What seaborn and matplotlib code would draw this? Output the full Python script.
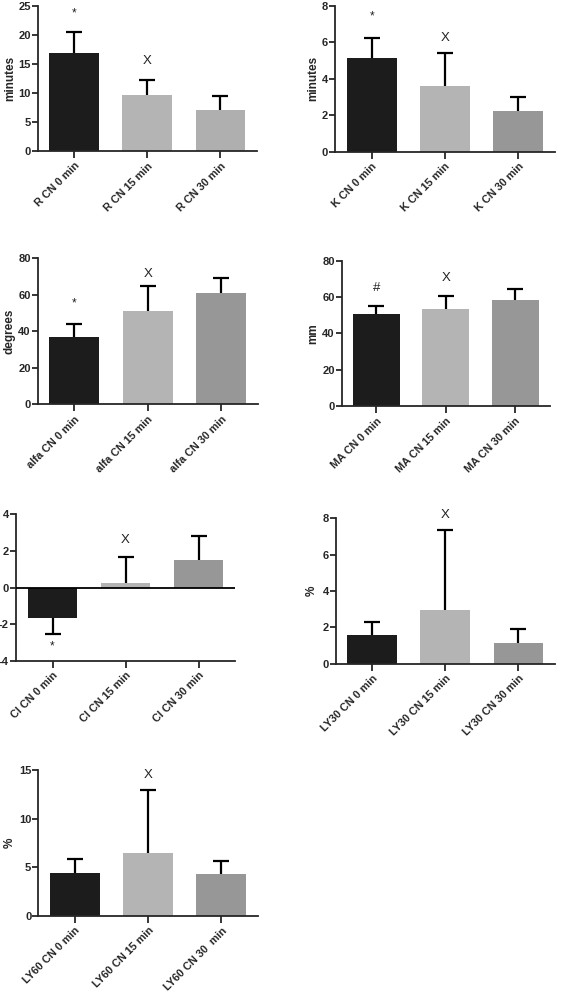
import matplotlib
matplotlib.use('Agg')
import matplotlib.pyplot as plt
import seaborn as sns
import pandas as pd

sns.set_style('ticks')
plt.rcParams['font.family'] = ['Liberation Sans', 'DejaVu Sans']
plt.rcParams['font.weight'] = 'bold'

# ---- data ----
times = ['0 min', '15 min', '30 min']

r_mean = [16.9, 9.6, 7.0]
r_sd = [3.5, 2.7, 2.4]
k_mean = [5.15, 3.6, 2.23]
k_sd = [1.1, 1.8, 0.78]
alfa_mean = [36.9, 51.3, 60.8]
alfa_sd = [6.9, 13.4, 8.6]
ma_mean = [50.7, 53.2, 58.2]
ma_sd = [4.4, 7.5, 6.0]
ci_mean = [-1.64, 0.24, 1.51]
ci_sd = [0.89, 1.40, 1.30]
ly30_mean = [1.56, 2.94, 1.16]
ly30_sd = [0.75, 4.42, 0.75]
ly60_mean = [4.36, 6.46, 4.29]
ly60_sd = [1.48, 6.44, 1.35]

c_dark = '#1c1c1c'
c_light = '#b4b4b4'
c_mid = '#979797'


def panel(rect, prefix, means, sds, ylabel, ymin, ymax, step, marks,
          colors=None, label_x=-0.125, names=None):
    '''
    draw one bar panel with one sided error bars
    '''
    if colors is None:
        colors = [c_dark, c_light, c_mid]
    if names is None:
        names = [prefix + ' CN ' + t for t in times]
    df = pd.DataFrame({'group': names, 'value': means})
    ax = fig.add_axes(rect)
    sns.barplot(data=df, x='group', y='value', hue='group',
                palette=colors, legend=False, errorbar=None,
                width=0.68, ax=ax, saturation=1, linewidth=0)
    # one sided error: away from zero
    tips = [m - sd if m < 0 else m + sd for m, sd in zip(means, sds)]
    xs = list(range(3))
    ax.vlines(xs, means, tips, color='black', lw=1.6, zorder=5)
    ax.plot(xs, tips, ls='none', marker='_', ms=11.5, mew=1.6,
            color='black', zorder=5)
    ax.set_xlim(-0.5, 2.5)
    ax.set_ylim(ymin, ymax)
    ticks = list(range(int(ymin), int(ymax) + 1, step))
    ax.set_yticks(ticks)
    ax.set_yticklabels([str(t) for t in ticks], fontsize=8,
                       fontweight='bold')
    ax.set_xticks(xs)
    ax.set_xticklabels(names, rotation=45, ha='right',
                       rotation_mode='anchor', fontsize=7.8,
                       fontweight='bold')
    ax.set_xlabel('')
    ax.set_ylabel(ylabel, fontsize=8.5, fontweight='bold', va='center')
    ax.yaxis.set_label_coords(label_x, 0.5)
    sns.despine(ax=ax)
    for s in ['left', 'bottom']:
        ax.spines[s].set_linewidth(1.3)
    ax.tick_params(axis='y', length=4, width=1.3, pad=1)
    ax.tick_params(axis='x', length=5, width=1.3, pad=2)
    if ymin < 0:
        ax.axhline(0, color='black', lw=1.3, zorder=4)
    for i, (sym, yv) in enumerate(marks):
        if sym:
            fs = 8.5 if sym == '*' else 9.5
            ax.text(i, yv, sym, ha='center', va='center', fontsize=fs,
                    fontweight='normal', color='#222222')
    return ax


W, H = 563, 992
fig = plt.figure(figsize=(W / 100, H / 100), dpi=100)


def rect(x0, x1, ytop, ybot):
    return [x0 / W, 1 - ybot / H, (x1 - x0) / W, (ybot - ytop) / H]


panel(rect(37.7, 257, 5.7, 151), 'R', r_mean, r_sd, 'minutes', 0, 25, 5,
      [('*', 23.7), ('X', 15.5), ('', 0)],
      colors=[c_dark, c_light, '#afafaf'], label_x=-0.126)
panel(rect(335, 555, 5.7, 151.7), 'K', k_mean, k_sd, 'minutes', 0, 8, 2,
      [('*', 7.4), ('X', 6.25), ('', 0)], label_x=-0.1)
panel(rect(37.7, 258, 258.3, 404.3), 'alfa', alfa_mean, alfa_sd, 'degrees',
      0, 80, 20, [('*', 55.3), ('X', 71.4), ('', 0)], label_x=-0.126)
panel(rect(341.7, 550, 260.7, 406), 'MA', ma_mean, ma_sd, 'mm', 0, 80, 20,
      [('#', 65.2), ('X', 70.3), ('', 0)], label_x=-0.138)
panel(rect(16, 235, 514.3, 660.7), 'CI', ci_mean, ci_sd, '', -4, 4, 2,
      [('*', -3.22), ('X', 2.57), ('', 0)])
panel(rect(335.7, 555, 518.3, 663.7), 'LY30', ly30_mean, ly30_sd, '%',
      0, 8, 2, [('', 0), ('X', 8.18), ('', 0)], label_x=-0.11)
panel(rect(38.3, 258, 770, 915.7), 'LY60', ly60_mean, ly60_sd, '%',
      0, 15, 5, [('', 0), ('X', 14.5), ('', 0)], label_x=-0.13,
      names=['LY60 CN 0 min', 'LY60 CN 15 min', 'LY60 CN 30  min'])

fig.savefig('out.png', dpi=100)
